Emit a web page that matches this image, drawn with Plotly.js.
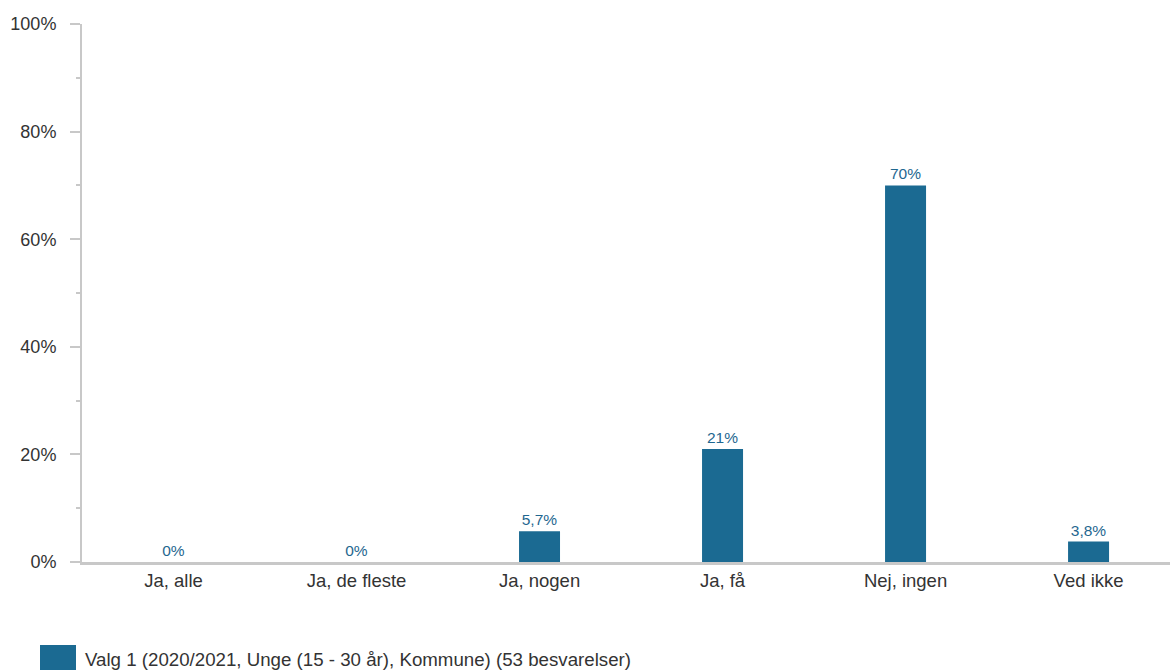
<!DOCTYPE html>
<html>
<head>
<meta charset="utf-8">
<script src="https://cdn.plot.ly/plotly-3.0.1.min.js"></script>
<style>html,body{margin:0;padding:0;background:#fff;}#chart{width:1170px;height:670px;}</style>
</head>
<body>
<div id="chart"></div>
<script>
var categories = ['Ja, alle', 'Ja, de fleste', 'Ja, nogen', 'Ja, få', 'Nej, ingen', 'Ved ikke'];
var values = [0, 0, 5.7, 21, 70, 3.8];
var valueLabels = ['0%', '0%', '5,7%', '21%', '70%', '3,8%'];
var yTickVals = [0, 20, 40, 60, 80, 100];
var yTickText = ['0%', '20%', '40%', '60%', '80%', '100%'];
var seriesName = 'Valg 1 (2020/2021, Unge (15 - 30 år), Kommune) (53 besvarelser)';

var barColor = '#1b6a92';
var axisColor = '#c8c8c8';
var font = 'Liberation Sans, Arial, sans-serif';

var W = 1170, H = 670, L = 82, T = 24, B = 108;
var plotW = W - L, plotH = H - T - B;
function px(x) { return (x - L) / plotW; }
function py(y) { return (H - B - y) / plotH; }

var trace = {
  type: 'bar',
  x: categories.map(function(c, i){ return i; }),
  y: values,
  text: valueLabels,
  textposition: 'outside',
  textfont: {family: font, size: 15.5, color: '#1f6790'},
  cliponaxis: false,
  marker: {color: barColor},
  width: 0.224,
  hoverinfo: 'skip',
  showlegend: false,
  name: seriesName
};

var layout = {
  width: W, height: H,
  margin: {l: L, r: 0, t: T, b: B, pad: 0},
  paper_bgcolor: '#fff', plot_bgcolor: '#fff',
  font: {family: font, size: 18, color: '#333333'},
  showlegend: false,
  xaxis: {
    range: [-0.5, 5.445],
    tickmode: 'array',
    tickvals: categories.map(function(c, i){ return i; }),
    ticktext: categories,
    ticks: '',
    showgrid: false, zeroline: false,
    showline: true, linecolor: axisColor, linewidth: 3,
    tickfont: {family: font, size: 18.5, color: '#333333'},
    fixedrange: true
  },
  yaxis: {
    range: [0, 100],
    tickmode: 'array',
    tickvals: yTickVals,
    ticktext: yTickText,
    ticks: 'outside', ticklen: 10, tickwidth: 2, tickcolor: axisColor,
    minor: {dtick: 10, tick0: 0, ticks: 'outside', ticklen: 4, tickwidth: 2, tickcolor: axisColor, showgrid: false},
    ticklabelstandoff: 10,
    showgrid: false, zeroline: false,
    showline: true, linecolor: axisColor, linewidth: 2,
    tickfont: {family: font, size: 18, color: '#333333'},
    fixedrange: true
  },
  shapes: [{
    type: 'rect', xref: 'paper', yref: 'paper',
    x0: px(40), x1: px(76), y0: py(645), y1: py(681),
    fillcolor: barColor, line: {width: 0}, layer: 'above'
  }],
  annotations: [{
    xref: 'paper', yref: 'paper',
    x: px(83), y: py(659),
    xanchor: 'left', yanchor: 'middle',
    text: seriesName, showarrow: false,
    font: {family: font, size: 18.7, color: '#333333'}
  }]
};

Plotly.newPlot('chart', [trace], layout, {displayModeBar: false, staticPlot: true});
</script>
</body>
</html>
